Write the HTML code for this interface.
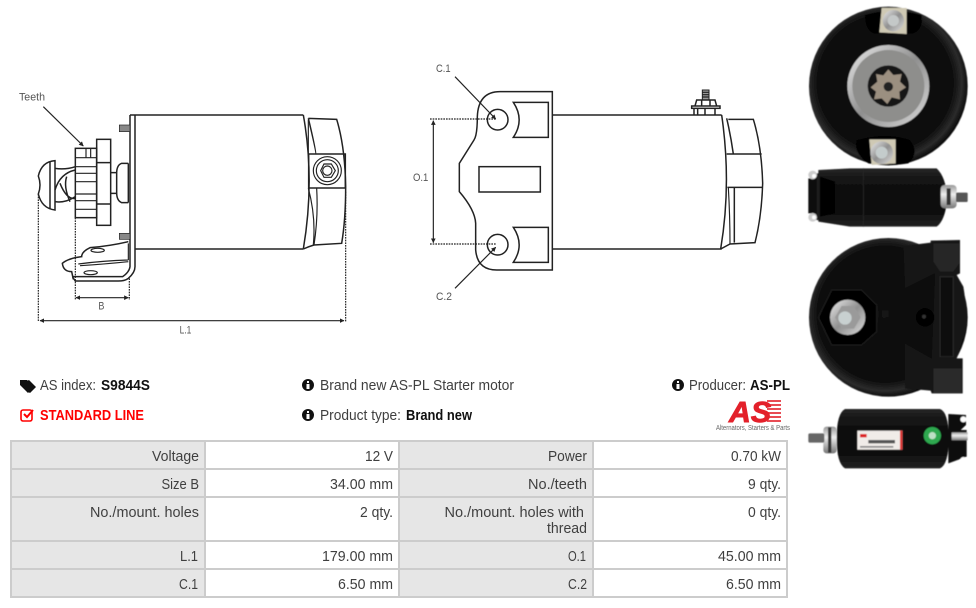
<!DOCTYPE html>
<html><head><meta charset="utf-8"><style>
html,body{margin:0;padding:0;background:#fff}
svg{display:block}
text{font-family:"Liberation Sans",sans-serif}
.t{font-size:15px;fill:#3f3f3f}
.h{font-size:15px;fill:#3f3f3f}
.b{font-size:15px;font-weight:bold;fill:#111}
.d{font-size:32px;fill:#555}
.l{fill:none;stroke:#222;stroke-width:4.5}
.n{fill:none;stroke:#222;stroke-width:3.5}
.dash{fill:none;stroke:#222;stroke-width:3.5;stroke-dasharray:5 3}
</style></head><body>
<svg width="976" height="608" viewBox="0 0 976 608" xmlns="http://www.w3.org/2000/svg">
<defs>
<marker id="a" viewBox="0 0 10 10" refX="9" refY="5" markerWidth="14" markerHeight="14" markerUnits="userSpaceOnUse" orient="auto-start-reverse"><path d="M0 0L10 5L0 10Z" fill="#222"/></marker>
<filter id="soft" x="-5%" y="-5%" width="110%" height="110%"><feGaussianBlur stdDeviation="1.6"/></filter>
<radialGradient id="blk" cx=".48" cy=".48" r=".52"><stop offset="0" stop-color="#121212"/><stop offset=".82" stop-color="#0e0e0e"/><stop offset=".93" stop-color="#2b2b2b"/><stop offset="1" stop-color="#0d0d0d"/></radialGradient>
<linearGradient id="sil" x1="0" y1="0" x2="1" y2="1"><stop offset="0" stop-color="#eee"/><stop offset=".5" stop-color="#8f8f8f"/><stop offset="1" stop-color="#ddd"/></linearGradient>
<linearGradient id="cyl" x1="0" y1="0" x2="0" y2="1"><stop offset="0" stop-color="#262626"/><stop offset=".2" stop-color="#131313"/><stop offset=".7" stop-color="#0a0a0a"/><stop offset="1" stop-color="#222"/></linearGradient>
<linearGradient id="silv" x1="0" y1="0" x2="0" y2="1"><stop offset="0" stop-color="#999"/><stop offset=".4" stop-color="#eee"/><stop offset="1" stop-color="#777"/></linearGradient>
</defs>

<!-- LEFT DRAWING -->
<g transform="translate(0,70) scale(.33333)">
<path class="l" d="M390 135H910M405 537H910"/>
<path class="l" d="M390 135V590Q388 606 368 620H222L218 620"/>
<path class="l" d="M405 135V590Q405 608 385 625Q375 633 355 633H226L218 622"/>
<path class="l" d="M910 135Q945 330 910 537M925 145Q950 250 947 252M925 145L1010 148Q1035 230 1037 350Q1037 450 1025 520L942 525Q925 530 910 537"/>
<path class="n" d="M925 150L925 252M925 355Q948 440 940 525M950 355Q955 440 942 525"/>
<rect class="l" x="926" y="252" width="110" height="102" fill="#fff"/>
<circle class="n" cx="982" cy="302" r="42"/><circle class="n" cx="982" cy="302" r="33"/>
<path class="n" d="M962 302L972 282H994L1006 302L994 322H972Z"/><circle class="n" cx="982" cy="302" r="14"/>
<rect x="358" y="165" width="32" height="20" fill="#888" stroke="#222" stroke-width="2"/>
<rect x="358" y="490" width="32" height="18" fill="#888" stroke="#222" stroke-width="2"/>
<rect class="l" x="226" y="235" width="64" height="208"/>
<path class="n" d="M226 263H290M226 290H290M226 310H290M226 335H290M226 372H290M226 392H290M226 418H290M258 235V262M272 235V262"/>
<rect class="l" x="290" y="208" width="42" height="258"/>
<path class="l" d="M290 278H332M290 402H332"/>
<path class="l" d="M332 308H350V370H332M350 310Q350 285 365 280H385M350 368Q350 392 365 398H385M385 280V398"/>
<path class="l" d="M165 295Q195 300 226 290M165 395Q195 400 226 380M165 360Q180 310 226 300M180 340Q200 390 226 385M210 395Q190 350 200 320"/>
<path class="l" d="M115 318Q125 275 165 272V420Q125 415 115 372Q125 345 115 318ZM150 274V418"/>
<path class="l" d="M385 515Q330 528 270 533Q245 545 245 560Q205 565 187 580Q190 605 215 605L220 628"/>
<path class="n" d="M235 582Q310 572 385 570M240 587Q320 582 385 575M385 520V570"/>
<ellipse class="n" cx="293" cy="541" rx="20" ry="6"/><ellipse class="n" cx="272" cy="608" rx="20" ry="6"/>
<path class="dash" d="M115 372V755M1037 365V755M226 443V690M388 625V690"/>
<path class="n" d="M228 683H385" marker-start="url(#a)" marker-end="url(#a)"/>
<path class="n" d="M120 752H1032" marker-start="url(#a)" marker-end="url(#a)"/>
<path class="n" d="M130 110L250 228" marker-end="url(#a)"/>
<text class="d" x="57" y="91" textLength="78" lengthAdjust="spacingAndGlyphs">Teeth</text>
<text class="d" x="295" y="718" textLength="18" lengthAdjust="spacingAndGlyphs">B</text>
<text class="d" x="539" y="790" textLength="35" lengthAdjust="spacingAndGlyphs">L.1</text>
</g>

<!-- RIGHT DRAWING -->
<g transform="translate(400,50) scale(.33333)">
<path class="l" d="M457 125H300Q235 125 232 200Q232 255 222 270L178 340V425Q225 480 227 520V600Q232 660 290 660H457Z"/>
<path class="l" d="M457 195H965M457 597H965"/>
<path class="l" d="M340 157H445V262H340Q375 210 340 157ZM340 532H445V637H340Q375 585 340 532Z"/>
<rect class="l" x="237" y="350" width="184" height="76"/>
<circle class="l" cx="293" cy="209" r="31"/><circle class="l" cx="293" cy="584" r="31"/>
<path class="l" d="M965 195Q995 400 962 597M980 205Q992 255 1000 312M1003 412V578M985 208H1060Q1085 290 1088 400Q1085 500 1065 578L990 582Q975 590 962 597"/>
<path class="l" d="M980 312H1085M982 412H1088"/>
<path class="n" d="M985 412Q990 500 990 582"/>
<rect x="907" y="120" width="20" height="30" fill="#999" stroke="#222" stroke-width="3"/>
<path class="n" d="M907 127H927M907 134H927M907 141H927"/>
<path class="l" d="M885 168L890 150H945L950 168M905 150V168M930 150V168"/>
<rect class="l" x="875" y="168" width="85" height="7"/>
<path class="l" d="M882 175V195M893 175V195M915 175V195M945 175V195"/>
<path class="dash" d="M90 207H290M90 582H290"/>
<path class="n" d="M100 212V578" marker-start="url(#a)" marker-end="url(#a)"/>
<path class="n" d="M165 80L287 207" marker-end="url(#a)"/>
<path class="n" d="M165 715L287 592" marker-end="url(#a)"/>
<text class="d" x="108" y="66" textLength="44" lengthAdjust="spacingAndGlyphs">C.1</text>
<text class="d" x="39" y="393" textLength="46" lengthAdjust="spacingAndGlyphs">O.1</text>
<text class="d" x="108" y="750" textLength="48" lengthAdjust="spacingAndGlyphs">C.2</text>
</g>

<!-- PHOTOS TOP -->
<g transform="translate(800,0) scale(.33333)" filter="url(#soft)">
<circle cx="265" cy="258" r="238" fill="url(#blk)"/>
<path d="M195 45Q280 20 365 45Q370 90 340 100H220Q195 90 195 45Z" fill="#050505"/>
<path d="M170 420Q260 395 330 420Q360 460 325 490Q260 500 205 490Q160 460 170 420Z" fill="#050505"/>
<path d="M245 24H320V102L238 97Z" fill="#cfc9b4"/>
<circle cx="280" cy="62" r="32" fill="url(#sil)"/><circle cx="280" cy="62" r="17" fill="#c4c8c8"/>
<path d="M208 418H287V490L215 495Z" fill="#cfc9b4"/>
<circle cx="245" cy="458" r="34" fill="url(#sil)"/><circle cx="245" cy="458" r="18" fill="#c4cccc"/>
<circle cx="265" cy="258" r="123" fill="url(#sil)"/>
<circle cx="265" cy="258" r="108" fill="#8e8e8c"/>
<circle cx="265" cy="258" r="62" fill="#141414"/>
<path d="M265 208L280 225L305 222L300 245L318 262L298 275L300 298L275 292L262 312L245 295L222 298L228 275L212 262L232 245L228 222L250 226Z" fill="#9b8f80"/>
<circle cx="265" cy="260" r="14" fill="#222"/>

<path d="M55 510L150 505H410Q437 530 442 592Q437 660 410 680H150L55 665Z" fill="url(#cyl)"/>
<path d="M60 530L105 545V640L60 650Z" fill="#000"/>
<path d="M190 505V680" stroke="#2a2a2a" stroke-width="2" fill="none"/>
<path d="M40 520H60V660H40Z" fill="#1a1a1a"/>
<path d="M25 535H50V640H25Z" fill="#0a0a0a"/>
<circle cx="38" cy="525" r="13" fill="#ccc"/><circle cx="42" cy="528" r="6" fill="#fff"/>
<circle cx="38" cy="652" r="13" fill="#ccc"/><circle cx="42" cy="652" r="6" fill="#fff"/>
<rect x="422" y="555" width="48" height="70" rx="12" fill="url(#silv)"/>
<rect x="440" y="565" width="12" height="50" fill="#333"/>
<rect x="468" y="578" width="35" height="28" rx="3" fill="#555"/>
</g>

<!-- PHOTOS BOTTOM -->
<g transform="translate(800,230) scale(.33333)" filter="url(#soft)">
<circle cx="265" cy="262" r="238" fill="url(#blk)"/>
<path d="M310 48L392 38V32L480 30V130L470 135L490 170Q510 280 470 385L488 385V490H395L392 482L315 475V340L395 385L405 130L315 175Z" fill="#121212"/>
<path d="M400 40H478V100L460 125H420L400 95Z" fill="#252525"/>
<path d="M400 415H485V488H400Z" fill="#2a2a2a"/>
<rect x="420" y="140" width="40" height="240" fill="#070707" stroke="#2a2a2a" stroke-width="3"/>
<circle cx="375" cy="262" r="28" fill="#050505"/><circle cx="372" cy="260" r="6" fill="#333"/>
<path d="M55 262L95 180H185L230 225V305L185 345H95Z" fill="#050505" stroke="#1c1c1c" stroke-width="4"/>
<circle cx="143" cy="262" r="53" fill="url(#sil)"/>
<path d="M105 262L125 228H162L182 262L162 296H125Z" fill="#9a9a9a"/>
<circle cx="135" cy="264" r="20" fill="#c8d0d0"/>

<path d="M135 537H420Q445 545 447 625Q445 705 420 715H135Q110 700 110 625Q110 550 135 537Z" fill="url(#cyl)"/>
<path d="M445 552L498 555V585L482 600H500V680L445 700Z" fill="#0f0f0f"/>
<circle cx="490" cy="568" r="9" fill="#fff"/><circle cx="490" cy="690" r="9" fill="#fff"/>
<rect x="455" y="607" width="48" height="24" fill="url(#silv)"/>
<rect x="70" y="590" width="40" height="80" rx="10" fill="url(#silv)"/>
<rect x="84" y="592" width="10" height="76" fill="#333"/>
<rect x="25" y="610" width="48" height="28" rx="5" fill="#666"/>
<rect x="172" y="602" width="135" height="57" fill="#f0ece8"/>
<rect x="300" y="602" width="7" height="57" fill="#d33"/>
<rect x="180" y="612" width="20" height="10" fill="#d22"/>
<rect x="205" y="630" width="80" height="10" fill="#555"/>
<rect x="180" y="648" width="100" height="5" fill="#888"/>
<circle cx="397" cy="617" r="26" fill="#2da84f"/><circle cx="397" cy="617" r="11" fill="#bde0c5"/>
</g>

<!-- INFO ROWS -->
<g fill="#111">
<path d="M20 380H27L34 387L28 393L20 385Z"/><path d="M29 380L36 387L30 393L28.500 392L33 387L27 381Z"/>
<circle cx="308" cy="385" r="6"/><circle cx="308" cy="415" r="6"/><circle cx="678" cy="385" r="6"/>
</g>
<g fill="#fff">
<rect x="307" y="381" width="2" height="2"/><rect x="306.500" y="384" width="3" height="5"/>
<rect x="307" y="411" width="2" height="2"/><rect x="306.500" y="414" width="3" height="5"/>
<rect x="677" y="381" width="2" height="2"/><rect x="676.500" y="384" width="3" height="5"/>
</g>
<rect x="21" y="410" width="11" height="11" rx="2" fill="none" stroke="#f00" stroke-width="1.600"/>
<path d="M24 414L27 417L33 410" fill="none" stroke="#f00" stroke-width="2"/>

<text class="t" x="40" y="390" textLength="56" lengthAdjust="spacingAndGlyphs">AS index:</text>
<text class="b" x="101" y="390" textLength="49" lengthAdjust="spacingAndGlyphs">S9844S</text>
<text x="40" y="420" textLength="104" lengthAdjust="spacingAndGlyphs" style="font-size:14.500px;font-weight:bold;fill:#f00">STANDARD LINE</text>
<text class="t" x="320" y="390" textLength="194" lengthAdjust="spacingAndGlyphs">Brand new AS-PL Starter motor</text>
<text class="t" x="320" y="420" textLength="81" lengthAdjust="spacingAndGlyphs">Product type:</text>
<text class="b" x="406" y="420" textLength="66" lengthAdjust="spacingAndGlyphs">Brand new</text>
<text class="t" x="689" y="390" textLength="57" lengthAdjust="spacingAndGlyphs">Producer:</text>
<text class="b" x="750" y="390" textLength="40" lengthAdjust="spacingAndGlyphs">AS-PL</text>

<!-- LOGO -->
<g fill="#e3202a" opacity=".8">
<rect x="767" y="400" width="14" height="2"/><rect x="767" y="404" width="14" height="2"/><rect x="767" y="408" width="14" height="2"/><rect x="767" y="412" width="14" height="2"/><rect x="767" y="416" width="14" height="2"/><rect x="767" y="420" width="14" height="2"/>
</g>
<text x="729" y="422" textLength="42" lengthAdjust="spacingAndGlyphs" style="font-size:29px;font-weight:bold;font-style:italic;fill:#e3202a;stroke:#e3202a;stroke-width:.9">AS</text>
<text x="716" y="430" textLength="74" lengthAdjust="spacingAndGlyphs" style="font-size:7px;fill:#666">Alternators, Starters &amp; Parts</text>

<!-- TABLE -->
<rect x="11" y="441" width="194" height="156" fill="#e6e6e6"/>
<rect x="399" y="441" width="194" height="156" fill="#e6e6e6"/>
<path d="M10 441H788M10 469H788M10 497H788M10 541H788M10 569H788M10 597H788M11 440V598M205 440V598M399 440V598M593 440V598M787 440V598" stroke="#ccc" stroke-width="2" fill="none"/>

<text class="h" x="152" y="461" textLength="47" lengthAdjust="spacingAndGlyphs">Voltage</text>
<text class="t" x="365" y="461" textLength="28" lengthAdjust="spacingAndGlyphs">12 V</text>
<text class="h" x="548" y="461" textLength="39" lengthAdjust="spacingAndGlyphs">Power</text>
<text class="t" x="731" y="461" textLength="50" lengthAdjust="spacingAndGlyphs">0.70 kW</text>

<text class="h" x="161.500" y="489" textLength="37.500" lengthAdjust="spacingAndGlyphs">Size B</text>
<text class="t" x="330" y="489" textLength="63" lengthAdjust="spacingAndGlyphs">34.00 mm</text>
<text class="h" x="528" y="489" textLength="59" lengthAdjust="spacingAndGlyphs">No./teeth</text>
<text class="t" x="748" y="489" textLength="33" lengthAdjust="spacingAndGlyphs">9 qty.</text>

<text class="h" x="90" y="517" textLength="109" lengthAdjust="spacingAndGlyphs">No./mount. holes</text>
<text class="t" x="360" y="517" textLength="33" lengthAdjust="spacingAndGlyphs">2 qty.</text>
<text class="h" x="444.500" y="517" textLength="139.500" lengthAdjust="spacingAndGlyphs">No./mount. holes with</text>
<text class="h" x="547" y="533" textLength="40" lengthAdjust="spacingAndGlyphs">thread</text>
<text class="t" x="748" y="517" textLength="33" lengthAdjust="spacingAndGlyphs">0 qty.</text>

<text class="h" x="180" y="561" textLength="18" lengthAdjust="spacingAndGlyphs">L.1</text>
<text class="t" x="322" y="561" textLength="71" lengthAdjust="spacingAndGlyphs">179.00 mm</text>
<text class="h" x="568" y="561" textLength="18" lengthAdjust="spacingAndGlyphs">O.1</text>
<text class="t" x="718" y="561" textLength="63" lengthAdjust="spacingAndGlyphs">45.00 mm</text>

<text class="h" x="179" y="589" textLength="19" lengthAdjust="spacingAndGlyphs">C.1</text>
<text class="t" x="338" y="589" textLength="55" lengthAdjust="spacingAndGlyphs">6.50 mm</text>
<text class="h" x="568" y="589" textLength="19" lengthAdjust="spacingAndGlyphs">C.2</text>
<text class="t" x="726" y="589" textLength="55" lengthAdjust="spacingAndGlyphs">6.50 mm</text>
</svg>
</body></html>
